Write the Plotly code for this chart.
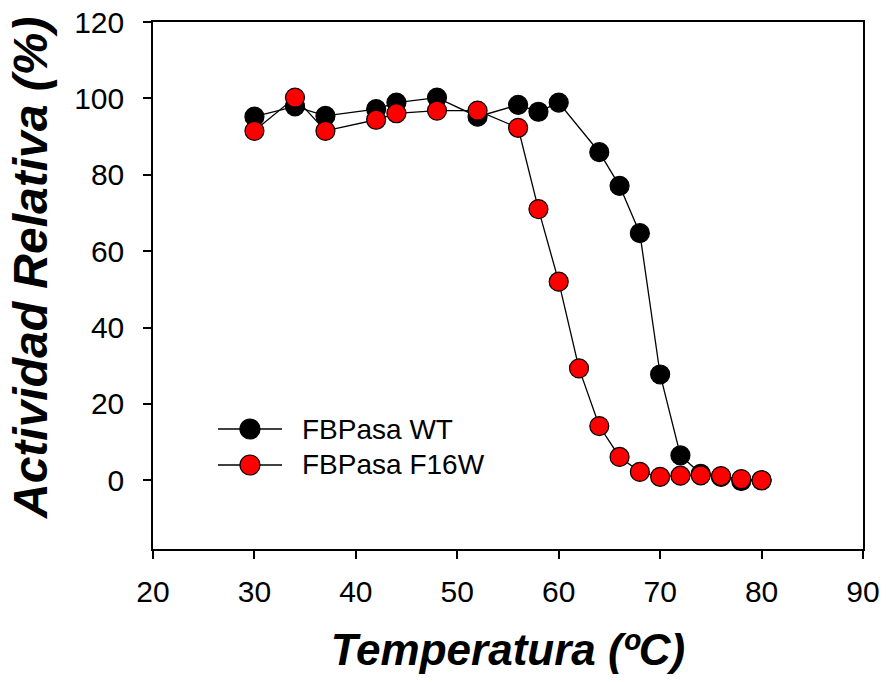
import plotly.graph_objects as go

# Temperature (ºC) and relative activity (%) for each enzyme variant
temp_wt = [30, 34, 37, 42, 44, 48, 52, 56, 58, 60, 64, 66, 68, 70, 72, 74, 76, 78, 80]
act_wt = [95.2, 97.9, 95.4, 97.2, 98.9, 100.2, 95.2, 98.3, 96.5, 98.9,
          85.9, 77.1, 64.7, 27.7, 6.5, 1.7, 0.9, -0.2, 0.0]

temp_f16w = [30, 34, 37, 42, 44, 48, 52, 56, 58, 60, 62, 64, 66, 68, 70, 72, 74, 76, 78, 80]
act_f16w = [91.5, 100.2, 91.5, 94.4, 96.1, 96.8, 96.8, 92.3, 71.0, 52.0,
            29.3, 14.2, 6.1, 2.2, 0.9, 1.2, 1.3, 1.1, 0.3, 0.0]

series_names = ["FBPasa WT", "FBPasa F16W"]
series_fill = ["black", "#ff0000"]

x_ticks = [20, 30, 40, 50, 60, 70, 80, 90]
y_ticks = [0, 20, 40, 60, 80, 100, 120]

FONT = "Liberation Sans, Arial, Helvetica, sans-serif"
MARKER_SIZE = 19

fig = go.Figure()
for name, fill, xs, ys in zip(series_names, series_fill,
                              [temp_wt, temp_f16w], [act_wt, act_f16w]):
    fig.add_trace(go.Scatter(
        x=xs, y=ys, mode="lines+markers", name=name, showlegend=False,
        line=dict(color="black", width=1.3),
        marker=dict(size=MARKER_SIZE, color=fill,
                    line=dict(color="black", width=1.2)),
    ))

axis_common = dict(
    showgrid=False, zeroline=False, showline=True, linecolor="black",
    linewidth=1.5, mirror=True, ticks="outside", ticklen=8, tickwidth=1.5,
    tickcolor="black", automargin=False,
    tickfont=dict(family=FONT, size=30, color="black"),
)

fig.update_xaxes(
    range=[20, 90], tickvals=x_ticks, ticklabelstandoff=7,
    title=dict(text="<b><i>Temperatura (ºC)</i></b>",
               font=dict(family=FONT, size=44, color="black"), standoff=27),
    **axis_common,
)
fig.update_yaxes(
    range=[-18, 120], tickvals=y_ticks, ticklabelstandoff=13,
    **axis_common,
)

# Vertical axis title, set a little above the axis midpoint
annotations = [dict(
    xref="paper", yref="paper", x=-0.1732, y=0.5332,
    xanchor="center", yanchor="middle", showarrow=False, textangle=-90,
    text="<b><i>Actividad Relativa (%)</i></b>",
    font=dict(family=FONT, size=48, color="black"),
)]

# Key in the lower-left corner of the plot area: sample line, marker, label
key_line_x = (0.0915, 0.1817)
key_marker_x = 0.1366
key_text_x = 0.207
key_rows_y = [0.2277, 0.1594]
shapes = []
for name, fill, ky in zip(series_names, series_fill, key_rows_y):
    shapes.append(dict(type="line", xref="paper", yref="paper",
                       x0=key_line_x[0], x1=key_line_x[1], y0=ky, y1=ky,
                       line=dict(color="black", width=1.3)))
    r = (MARKER_SIZE + 1) / 2
    shapes.append(dict(type="circle", xref="paper", yref="paper",
                       xsizemode="pixel", ysizemode="pixel",
                       xanchor=key_marker_x, yanchor=ky,
                       x0=-r, x1=r, y0=-r, y1=r,
                       fillcolor=fill, line=dict(color="black", width=1.2)))
    annotations.append(dict(xref="paper", yref="paper", x=key_text_x, y=ky,
                            xanchor="left", yanchor="middle", showarrow=False,
                            text=name,
                            font=dict(family=FONT, size=28, color="black")))

fig.update_layout(
    width=886, height=682,
    margin=dict(l=153, r=23, t=22, b=133),
    paper_bgcolor="white", plot_bgcolor="white",
    showlegend=False,
    shapes=shapes, annotations=annotations,
)

fig.write_html("out.html")
